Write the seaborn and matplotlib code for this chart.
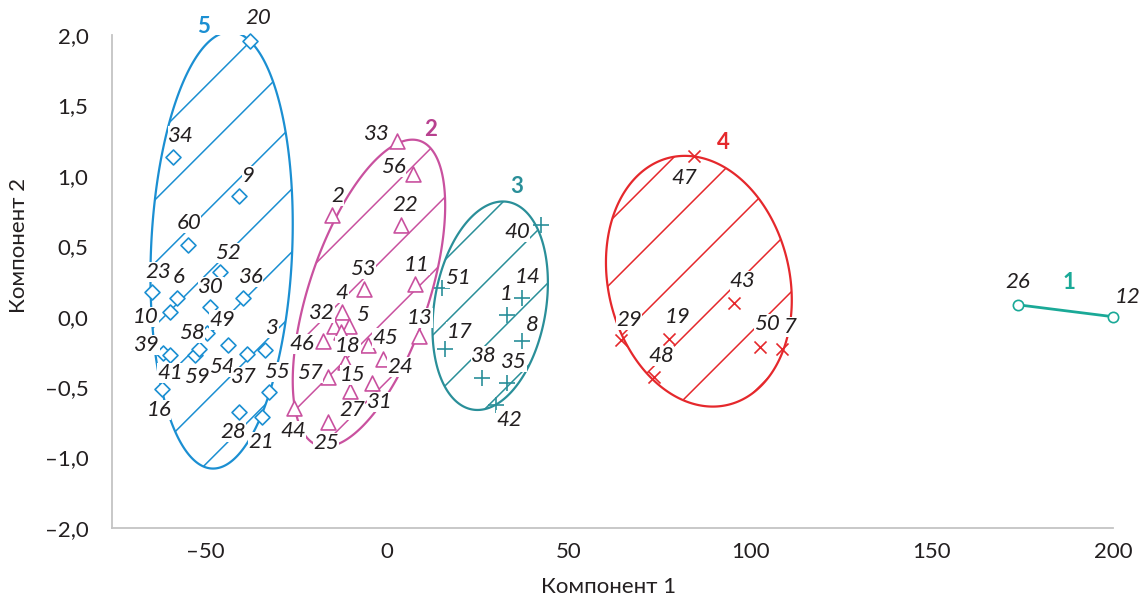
import numpy as np
import pandas as pd
import matplotlib
matplotlib.use("Agg")
import matplotlib.pyplot as plt
import seaborn as sns
from matplotlib.patches import Polygon

# ---- data: points of each cluster (object number, component 1, component 2)
c5_ids = [20, 34, 9, 60, 52, 23, 6, 10, 30, 36, 49, 39, 41, 58, 59, 54, 37, 3, 16, 55, 28, 21]
c5_x = [-37.8, -59.0, -40.8, -54.9, -46.0, -64.8, -57.9, -59.8, -48.8, -39.7, -49.6,
        -61.8, -59.8, -52.9, -51.8, -43.8, -38.6, -33.6, -62.0, -32.5, -40.8, -34.5]
c5_y = [1.957, 1.135, 0.858, 0.51, 0.318, 0.177, 0.135, 0.035, 0.071, 0.135, -0.113,
        -0.255, -0.27, -0.27, -0.227, -0.199, -0.262, -0.234, -0.511, -0.532, -0.674, -0.709]

c2_ids = [33, 56, 2, 22, 53, 11, 4, 32, 5, 18, 46, 45, 13, 24, 15, 57, 31, 27, 44, 25]
c2_x = [2.8, 7.2, -15.2, 3.9, -6.3, 7.7, -12.4, -14.6, -10.5, -12.7, -17.6, -5.2, 8.8,
        -1.1, -11.6, -16.3, -4.1, -10.2, -25.6, -16.3]
c2_y = [1.25, 1.01, 0.72, 0.65, 0.2, 0.23, 0.035, -0.065, -0.065, -0.11, -0.17, -0.2,
        -0.135, -0.3, -0.32, -0.43, -0.47, -0.53, -0.65, -0.745]

c3_ids = [40, 51, 14, 1, 8, 17, 38, 35, 42]
c3_x = [42.5, 15.2, 37.2, 33.1, 37.2, 16.0, 26.2, 33.1, 30.1]
c3_y = [0.652, 0.206, 0.135, 0.014, -0.17, -0.227, -0.433, -0.468, -0.624]

c4_ids = [47, 43, 29, 19, 50, 7, 48]
c4_x = [84.6, 95.7, 64.5, 77.8, 102.8, 108.9, 73.6]
c4_y = [1.142, 0.099, -0.163, -0.156, -0.213, -0.227, -0.426]

c1_ids = [26, 12]
c1_x = [173.7, 200.0]
c1_y = [0.085, 0.0]

# cluster ellipses: centre x, centre y, half extent x, half extent y, correlation
ell_cx = {5: -45.6, 2: -5.0, 3: 28.4, 4: 85.9}
ell_cy = {5: 0.472, 2: 0.167, 3: 0.078, 4: 0.252}
ell_rx = {5: 19.6, 2: 21.0, 3: 15.9, 4: 25.6}
ell_ry = {5: 1.55, 2: 1.09, 3: 0.74, 4: 0.89}
ell_rho = {5: 0.12, 2: 0.57, 3: 0.22, 4: -0.15}

x_ticks = [-50, 0, 50, 100, 150, 200]
x_ticklabels = ["\u201350", "0", "50", "100", "150", "200"]
y_ticks = [-1.5, -1.0, -0.5, 0.0, 0.5, 1.0, 1.5, 2.0]
y_ticklabels = ["\u20132,0", "\u20131,0", "\u20130,5", "0,0", "0,5", "1,0", "1,5", "2,0"]

# ---- styles and label placement
colors = {5: "#1b8fd2", 2: "#c9519f", 3: "#2a8f99", 4: "#e5282c", 1: "#1aa997"}
title_colors = {5: "#1b8fd2", 2: "#b8418f", 3: "#2a8f99", 4: "#e5282c", 1: "#1aa997"}
markers = {5: "D", 2: "^", 3: "+", 4: "x", 1: "o"}
sizes = {5: 58, 2: 115, 3: 140, 4: 75, 1: 55}
hatch_phase = {5: 9, 2: -20, 3: -28, 4: -23}
cluster_label_pos = {5: (-50.5, 2.057), 2: (11.9, 1.326), 3: (35.8, 0.922),
                     4: (92.6, 1.234), 1: (187.8, 0.241)}

# label offsets in pixels (dx, dy up)
offs = {
    20: (8, 23), 34: (8, 21), 9: (9, 20), 60: (1, 22), 52: (8, 19), 23: (6, 20), 6: (2, 21),
    10: (-24, -5), 30: (1, 20), 36: (8, 21), 49: (15, 13), 39: (-16, 8), 41: (0, -18),
    58: (-3, 22), 59: (-2, -28), 54: (-6, -22), 37: (-3, -23), 3: (7, 22), 16: (-3, -21),
    55: (8, 20), 28: (-6, -20), 21: (-1, -25),
    33: (-20, 7), 56: (-20, 7), 2: (6, 19), 22: (4, 20), 53: (-1, 20), 11: (2, 19),
    4: (0, 19), 5: (13, 11), 32: (-12, 13), 46: (-21, -3), 18: (7, -14), 45: (17, 7),
    13: (1, 18), 24: (17, -8), 57: (-18, 4), 15: (8, -13), 31: (8, -19), 27: (2, -19),
    44: (-1, -23), 25: (-2, -21),
    40: (-24, -7), 51: (16, 10), 14: (5, 21), 1: (-1, 21), 8: (10, 16), 17: (14, 17),
    38: (2, 22), 35: (7, 21), 42: (13, -15),
    47: (-10, -22), 43: (8, 22), 29: (8, 20), 19: (8, 22), 50: (7, 23), 7: (8, 22), 48: (7, 21),
    26: (0, 23), 12: (15, 20),
}

clusters = {
    5: pd.DataFrame({"id": c5_ids, "x": c5_x, "y": c5_y}),
    2: pd.DataFrame({"id": c2_ids, "x": c2_x, "y": c2_y}),
    3: pd.DataFrame({"id": c3_ids, "x": c3_x, "y": c3_y}),
    4: pd.DataFrame({"id": c4_ids, "x": c4_x, "y": c4_y}),
    1: pd.DataFrame({"id": c1_ids, "x": c1_x, "y": c1_y}),
}

sns.set_style("white")
plt.rcParams["font.family"] = ["Lato", "DejaVu Sans"]
axis_col = "#c4c4c4"
text_col = "#231f20"
fs = 16

fig = plt.figure(figsize=(11.42, 6.01), dpi=100)
ax = fig.add_axes([0.09807, 0.12146, 0.87653, 0.82030])
ax.set_xlim(-75.8, 200)
ax.set_ylim(-1.5, 2.0)

# pixel scale, for 45-degree hatching
p0 = ax.transData.transform((0, 0))
p1 = ax.transData.transform((1, 1))
sx, sy = p1[0] - p0[0], p1[1] - p0[1]
k = sx / sy

for c in [5, 2, 3, 4]:
    col = colors[c]
    t = np.linspace(0, 2 * np.pi, 300)
    phi = np.arccos(ell_rho[c])
    ex = ell_cx[c] + ell_rx[c] * np.cos(t)
    ey = ell_cy[c] + ell_ry[c] * np.cos(t - phi)
    poly = Polygon(np.column_stack([ex, ey]), closed=True, fill=False,
                   edgecolor=col, linewidth=1.6, zorder=2.5)
    ax.add_patch(poly)
    bc = ell_cy[c] - k * ell_cx[c]
    xs = np.array([ell_cx[c] - 1.5 * ell_rx[c], ell_cx[c] + 1.5 * ell_rx[c]])
    for j in range(-8, 9):
        b = bc - (hatch_phase[c] + 63 * j) / sy
        ln, = ax.plot(xs, k * xs + b, color=col, lw=1.1, zorder=2)
        ln.set_clip_path(poly)

# line for cluster 1
sns.lineplot(data=clusters[1], x="x", y="y", color=colors[1], lw=2, ax=ax,
             zorder=2.5, clip_on=False, sort=False)

for c, df in clusters.items():
    col = colors[c]
    m = markers[c]
    if m in ("+", "x"):
        sns.scatterplot(data=df, x="x", y="y", marker=m, s=sizes[c], color=col,
                        linewidth=1.2, ax=ax, zorder=3, clip_on=False)
    else:
        sns.scatterplot(data=df, x="x", y="y", marker=m, s=sizes[c], color="white",
                        edgecolor=col, linewidth=1.2, ax=ax, zorder=3, clip_on=False)
    for _, r in df.iterrows():
        dx, dy = offs[int(r["id"])]
        ax.annotate(str(int(r["id"])), (r["x"], r["y"]), xytext=(dx, dy),
                    textcoords="offset pixels", ha="center", va="center",
                    fontsize=fs, style="italic", color=text_col, zorder=4,
                    annotation_clip=False,
                    bbox=dict(boxstyle="square,pad=0.0", fc="white", ec="none"))
    lx, ly = cluster_label_pos[c]
    ax.text(lx, ly, str(c), color=title_colors[c], fontsize=fs, fontweight="bold",
            ha="center", va="center", zorder=4, clip_on=False)

ax.set_xticks(x_ticks)
ax.set_xticklabels(x_ticklabels)
ax.set_yticks(y_ticks)
ax.set_yticklabels(y_ticklabels)
ax.set_xlabel("Компонент 1", fontsize=fs, color=text_col)
ax.set_ylabel("Компонент 2", fontsize=fs, color=text_col)
ax.xaxis.set_label_coords(0.496, -0.100)
ax.yaxis.set_label_coords(-0.083, 0.574)

sns.despine(ax=ax)
for s in ["left", "bottom"]:
    ax.spines[s].set_color(axis_col)
    ax.spines[s].set_linewidth(1.3)
ax.tick_params(axis="x", direction="inout", length=8, width=1.1, color=axis_col,
               labelsize=fs, labelcolor=text_col, pad=6)
ax.tick_params(axis="y", direction="out", length=8, width=1.1, color=axis_col,
               labelsize=fs, labelcolor=text_col, pad=9)

fig.savefig("out.png", dpi=100)
